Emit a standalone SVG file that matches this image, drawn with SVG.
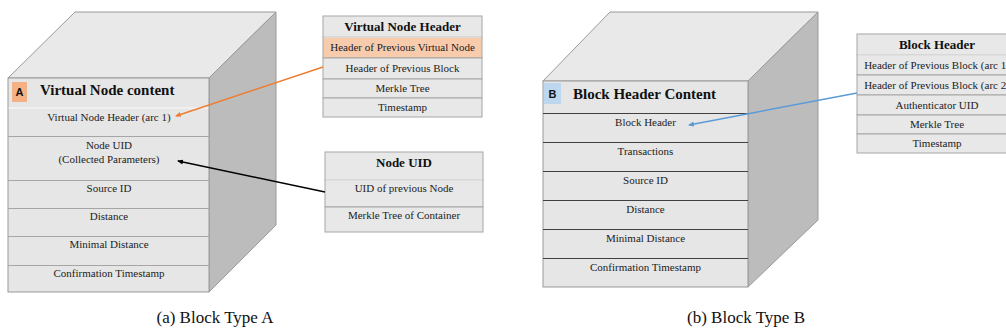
<svg xmlns="http://www.w3.org/2000/svg" width="1006" height="336" viewBox="0 0 1006 336">
  <style>
    .top { fill: #e9e9e9; stroke: #999; stroke-width: 1; }
    .side { fill: #bcbcbc; stroke: #999; stroke-width: 1; }
    .face { fill: #e6e6e6; stroke: #999; stroke-width: 1; }
    .sepA { stroke: #a6a6a6; stroke-width: 1; }
    .sepB { stroke: #404040; stroke-width: 1.2; }
    .cell { fill: #e8e8e8; stroke: #a6a6a6; stroke-width: 1; }
    .hl { fill: #f8cbad; stroke: #a6a6a6; stroke-width: 1; }
    .t { font-family: "Liberation Serif", "Times New Roman", serif; font-size: 11px; fill: #222; text-anchor: middle; }
    .th { font-family: "Liberation Serif", "Times New Roman", serif; font-size: 13px; font-weight: bold; fill: #111; text-anchor: middle; }
    .title { font-family: "Liberation Serif", "Times New Roman", serif; font-size: 15px; font-weight: bold; fill: #111; }
    .badge { font-family: "Liberation Sans", Arial, sans-serif; font-size: 11px; font-weight: bold; fill: #111; text-anchor: middle; }
    .cap { font-family: "Liberation Serif", "Times New Roman", serif; font-size: 17px; fill: #111; text-anchor: middle; }
  </style>
  <defs>
    <marker id="ahOrange" markerWidth="6" markerHeight="6" refX="5" refY="3" orient="auto" markerUnits="userSpaceOnUse">
      <path d="M0,0.5 L6,3 L0,5.5 Z" fill="#ed7d31"/>
    </marker>
    <marker id="ahBlack" markerWidth="6" markerHeight="6" refX="5" refY="3" orient="auto" markerUnits="userSpaceOnUse">
      <path d="M0,0.5 L6,3 L0,5.5 Z" fill="#000"/>
    </marker>
    <marker id="ahBlue" markerWidth="6" markerHeight="6" refX="5" refY="3" orient="auto" markerUnits="userSpaceOnUse">
      <path d="M0,0.5 L6,3 L0,5.5 Z" fill="#5b9bd5"/>
    </marker>
  </defs>

  <!-- Block type A: 3D block -->
  <g id="blockA">
    <polygon class="top" points="8,78 75,12 276,12 209,78"/>
    <polygon class="side" points="209,78 276,12 276,225 209,292"/>
    <rect class="face" x="8" y="78" width="201" height="214"/>
    <line x1="8.5" y1="108" x2="208.5" y2="108" stroke="#fafafa" stroke-width="1.2"/>
    <line class="sepA" x1="8" y1="136.5" x2="209" y2="136.5"/>
    <line class="sepA" x1="8" y1="180.5" x2="209" y2="180.5"/>
    <line class="sepA" x1="8" y1="208.5" x2="209" y2="208.5"/>
    <line class="sepA" x1="8" y1="236.5" x2="209" y2="236.5"/>
    <line class="sepA" x1="8" y1="265.5" x2="209" y2="265.5"/>
    <rect x="12" y="82" width="15" height="20" fill="#f4b183"/>
    <text class="badge" x="19.5" y="96">A</text>
    <text class="title" x="40" y="95">Virtual Node content</text>
    <text class="t" x="109" y="121">Virtual Node Header (arc 1)</text>
    <text class="t" x="109" y="149">Node UID</text>
    <text class="t" x="109" y="163">(Collected Parameters)</text>
    <text class="t" x="109" y="192">Source ID</text>
    <text class="t" x="109" y="220">Distance</text>
    <text class="t" x="109" y="248">Minimal Distance</text>
    <text class="t" x="109" y="277">Confirmation Timestamp</text>
  </g>

  <!-- Virtual Node Header table -->
  <g id="vnHeader">
    <rect class="cell" x="323" y="16" width="159" height="21"/>
    <rect class="hl" x="323" y="37" width="159" height="21"/>
    <rect class="cell" x="323" y="58" width="159" height="21"/>
    <rect class="cell" x="323" y="79" width="159" height="19"/>
    <rect class="cell" x="323" y="98" width="159" height="19"/>
    <line x1="323.5" y1="37" x2="481.5" y2="37" stroke="#fafafa" stroke-width="1"/>
    <text class="th" x="402.5" y="31">Virtual Node Header</text>
    <text class="t" x="402.5" y="51">Header of Previous Virtual Node</text>
    <text class="t" x="402.5" y="71.5">Header of Previous Block</text>
    <text class="t" x="402.5" y="91.5">Merkle Tree</text>
    <text class="t" x="402.5" y="110.5">Timestamp</text>
  </g>

  <!-- Node UID table -->
  <g id="nodeUid">
    <rect class="cell" x="325" y="152" width="158" height="28"/>
    <rect class="cell" x="325" y="180" width="158" height="27"/>
    <rect class="cell" x="325" y="207" width="158" height="25"/>
    <line x1="325.5" y1="180" x2="482.5" y2="180" stroke="#fafafa" stroke-width="1"/>
    <text class="th" x="404" y="167">Node UID</text>
    <text class="t" x="404" y="192">UID of previous Node</text>
    <text class="t" x="404" y="219">Merkle Tree of Container</text>
  </g>

  <!-- Block type B: 3D block -->
  <g id="blockB">
    <polygon class="top" points="543,81 610,12 818,12 748,81"/>
    <polygon class="side" points="748,81 818,12 818,220 748,287"/>
    <rect class="face" x="543" y="81" width="205" height="206"/>
    <line class="sepB" x1="543" y1="113.5" x2="748" y2="113.5"/>
    <line class="sepB" x1="543" y1="142.5" x2="748" y2="142.5"/>
    <line class="sepB" x1="543" y1="171.5" x2="748" y2="171.5"/>
    <line class="sepB" x1="543" y1="200.5" x2="748" y2="200.5"/>
    <line class="sepB" x1="543" y1="229.5" x2="748" y2="229.5"/>
    <line class="sepB" x1="543" y1="258.5" x2="748" y2="258.5"/>
    <rect x="544" y="83" width="17" height="21" fill="#bdd7ee"/>
    <text class="badge" x="552.5" y="98">B</text>
    <text class="title" x="573" y="99">Block Header Content</text>
    <text class="t" x="645.5" y="126">Block Header</text>
    <text class="t" x="645.5" y="155">Transactions</text>
    <text class="t" x="645.5" y="184">Source ID</text>
    <text class="t" x="645.5" y="213">Distance</text>
    <text class="t" x="645.5" y="242">Minimal Distance</text>
    <text class="t" x="645.5" y="271">Confirmation Timestamp</text>
  </g>

  <!-- Block Header table (runs off the right edge) -->
  <g id="blockHeader">
    <rect class="cell" x="857" y="34" width="162" height="21"/>
    <rect class="cell" x="857" y="55" width="162" height="20"/>
    <rect class="cell" x="857" y="75" width="162" height="20"/>
    <rect class="cell" x="857" y="95" width="162" height="20"/>
    <rect class="cell" x="857" y="115" width="162" height="19"/>
    <rect class="cell" x="857" y="134" width="162" height="19"/>
    <line x1="857.5" y1="55" x2="1006" y2="55" stroke="#fafafa" stroke-width="1"/>
    <text class="th" x="937" y="49">Block Header</text>
    <text class="t" x="937" y="68.5">Header of Previous Block (arc 1)</text>
    <text class="t" x="937" y="88.5">Header of Previous Block (arc 2)</text>
    <text class="t" x="937" y="108.5">Authenticator UID</text>
    <text class="t" x="937" y="127.5">Merkle Tree</text>
    <text class="t" x="937" y="146.5">Timestamp</text>
  </g>

  <!-- Connectors -->
  <g id="connectors" fill="none" stroke-width="1.5">
    <line x1="323" y1="67" x2="176" y2="116" stroke="#ed7d31" marker-end="url(#ahOrange)"/>
    <line x1="325" y1="192" x2="178" y2="161" stroke="#000" marker-end="url(#ahBlack)"/>
    <line x1="857" y1="93" x2="689" y2="125" stroke="#5b9bd5" marker-end="url(#ahBlue)"/>
  </g>

  <!-- Captions -->
  <text class="cap" x="215" y="323">(a) Block Type A</text>
  <text class="cap" x="746" y="323">(b) Block Type B</text>
</svg>
